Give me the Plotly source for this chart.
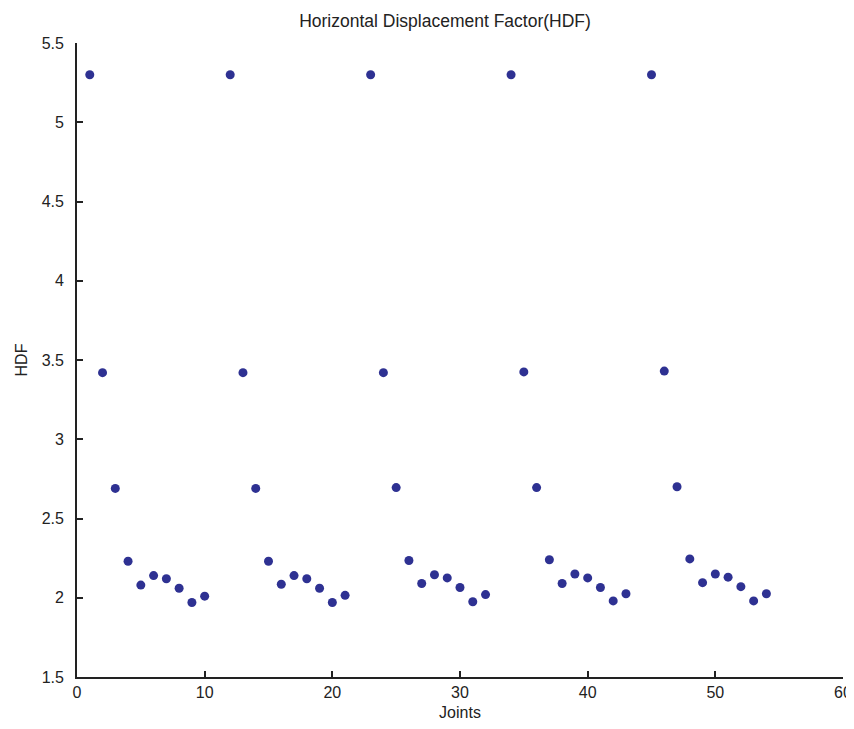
import plotly.graph_objects as go

joints = [1, 2, 3, 4, 5, 6, 7, 8, 9, 10,
          12, 13, 14, 15, 16, 17, 18, 19, 20, 21,
          23, 24, 25, 26, 27, 28, 29, 30, 31, 32,
          34, 35, 36, 37, 38, 39, 40, 41, 42, 43,
          45, 46, 47, 48, 49, 50, 51, 52, 53, 54]
hdf = [5.30, 3.42, 2.69, 2.23, 2.08, 2.14, 2.12, 2.06, 1.97, 2.01,
       5.30, 3.42, 2.69, 2.23, 2.085, 2.14, 2.12, 2.06, 1.97, 2.015,
       5.30, 3.42, 2.695, 2.235, 2.09, 2.145, 2.125, 2.065, 1.975, 2.02,
       5.30, 3.425, 2.695, 2.24, 2.09, 2.15, 2.125, 2.065, 1.98, 2.025,
       5.30, 3.43, 2.70, 2.245, 2.095, 2.15, 2.13, 2.07, 1.98, 2.025]

x_ticks = [0, 10, 20, 30, 40, 50, 60]
y_ticks = [1.5, 2, 2.5, 3, 3.5, 4, 4.5, 5, 5.5]
y_tick_labels = ["1.5", "2", "2.5", "3", "3.5", "4", "4.5", "5", "5.5"]

fig = go.Figure()
fig.add_trace(go.Scatter(
    x=joints, y=hdf, mode="markers",
    marker=dict(symbol="circle", size=9, color="#2e3192", line=dict(width=0)),
    showlegend=False,
))

font = "Liberation Sans, Arial, sans-serif"
W, H = 846, 713
fig.update_layout(
    width=W, height=H,
    margin=dict(l=69, r=11, t=35, b=44),
    paper_bgcolor="white", plot_bgcolor="white",
    font=dict(family=font, size=16, color="#222222"),
    title=dict(text="Horizontal Displacement Factor(HDF)", xref="container",
               x=437 / W, xanchor="center",
               y=1 - 13 / H, yanchor="middle", font=dict(size=17.5, family=font)),
    xaxis=dict(
        range=[0, 60], tickvals=x_ticks, ticks="inside", ticklen=6, tickwidth=1.5,
        tickcolor="#222222", showline=True, linecolor="#222222", linewidth=1.8,
        showgrid=False, zeroline=False, mirror=False, automargin=False,
        title=dict(text="Joints", font=dict(size=16), standoff=12),
        tickfont=dict(size=16),
    ),
    yaxis=dict(
        range=[1.5, 5.5], tickvals=y_ticks, ticktext=y_tick_labels, ticks="inside",
        ticklen=6, tickwidth=1.5, tickcolor="#222222", showline=True,
        linecolor="#222222", linewidth=1.8, showgrid=False, zeroline=False,
        mirror=False, ticklabelstandoff=8, automargin=False,
        title=dict(text="HDF", font=dict(size=16), standoff=10),
        tickfont=dict(size=16),
    ),
)

fig.write_html("out.html")
